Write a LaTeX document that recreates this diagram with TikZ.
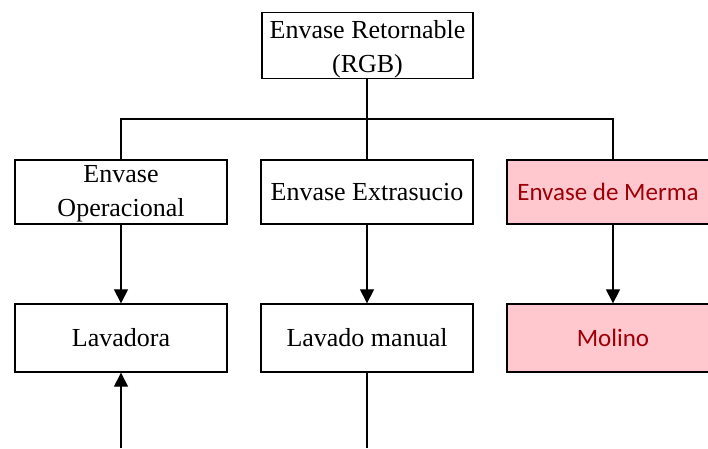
\documentclass[tikz,border=0pt]{standalone}
\usepackage{fontspec}
\setmainfont{Liberation Serif}
\newfontfamily\calib{Carlito}
\usetikzlibrary{arrows.meta}
\definecolor{badfill}{HTML}{FFC7CE}
\definecolor{badtext}{HTML}{9C0006}
% strut that lowers a two-line label inside its box
\newcommand{\toplift}[1]{\rule{0pt}{#1}}
\tikzset{
  x=1pt, y=-1pt,
  box/.style={draw, line width=1.3pt, minimum width=212pt, inner sep=0pt,
              align=center, font=\fontsize{26}{34}\selectfont},
  badbox/.style={box, fill=badfill, text=badtext,
                 font=\calib\fontsize{25}{30}\selectfont},
  link/.style={line width=1.1pt},
  flow/.style={link, -{Triangle[width=14pt,length=14pt]}}
}
\begin{document}
\begin{tikzpicture}
  \useasboundingbox (0,0) rectangle (708,448);
  \clip (0,0) rectangle (708,448);

  % top level
  \node[box, minimum width=211pt, minimum height=65pt] (top) at (367.5,45.5)
       {\toplift{26pt}Envase Retornable\\(RGB)};

  % second level
  \node[box, minimum height=64pt] (op)    at (121,192) {\toplift{21pt}Envase\\Operacional};
  \node[box, minimum height=64pt] (extra) at (367,192) {Envase Extrasucio};
  \node[badbox, minimum height=64pt] (merma) at (613,192) {\kern-10pt Envase de Merma};

  % third level
  \node[box, minimum height=68pt] (lav)    at (121,338) {Lavadora};
  \node[box, minimum height=68pt] (manual) at (367,338) {Lavado manual};
  \node[badbox, minimum height=68pt] (molino) at (613,338) {Molino};

  % distribution bus
  \coordinate (bus) at (367,119);
  \draw[link] (top.south -| extra.north) -- (extra.north);
  \draw[link] (op.north) |- (bus) -| (merma.north);

  % flows between levels
  \draw[flow] (op.south) -- (lav.north);
  \draw[flow] (extra.south) -- (manual.north);
  \draw[flow] (merma.south) -- (molino.north);

  % lines leaving the lower edge
  \coordinate (inL) at (121,448);
  \coordinate (outM) at (367,448);
  \draw[flow] (inL) -- (lav.south);
  \draw[link] (manual.south) -- (outM);
\end{tikzpicture}
\end{document}
